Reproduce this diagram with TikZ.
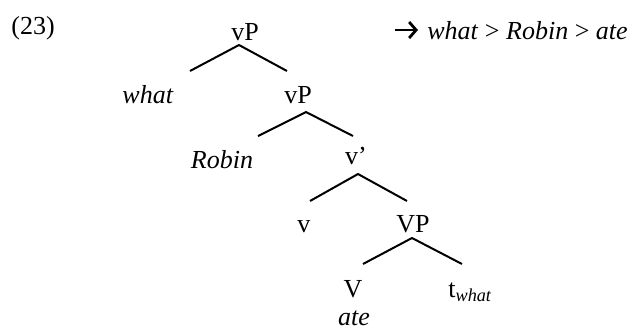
\documentclass[tikz,border=0pt]{standalone}
\usepackage{fontspec}
\setmainfont{Liberation Serif}
\usetikzlibrary{arrows.meta}
\begin{document}
\begin{tikzpicture}[x=0.5pt,y=-0.5pt,
  lab/.style={anchor=base,inner sep=0pt,font=\fontsize{13}{15}\selectfont},
  branch/.style={line width=1pt}]
\useasboundingbox (0,0) rectangle (634,329);
% labels
\node[lab,anchor=base west] (num) at (11,34) {(23)};
\node[lab] (vP1) at (245,40) {vP};
\node[lab] (what) at (148,103) {\textit{what}};
\node[lab] (vP2) at (298,103) {vP};
\node[lab] (robin) at (222,168) {\textit{Robin}};
\node[lab] (vbar) at (356,164) {v’};
\node[lab] (v) at (304,232) {v};
\node[lab] (VP) at (413,232) {VP};
\node[lab] (V) at (353,297) {V};
\node[lab,anchor=base west] (t) at (448,297) {t\textsubscript{\textit{what}}};
\node[lab] (ate) at (354,325) {\textit{ate}};
\node[lab,anchor=base west] (order) at (427,39) {\textit{what} > \textit{Robin} > \textit{ate}};
% arrow symbol
\coordinate (arrS) at (395,30); \coordinate (arrE) at (418,30);
\draw[line width=1.4pt,-{Straight Barb[length=3.5pt,width=8pt,line width=1.4pt]}] (arrS) -- (arrE);
% branch points
\coordinate (a1) at (239,45); \coordinate (l1) at (190,71); \coordinate (r1) at (287,71);
\coordinate (a2) at (306,112); \coordinate (l2) at (258,136); \coordinate (r2) at (353,136);
\coordinate (a3) at (358,174); \coordinate (l3) at (310,201); \coordinate (r3) at (407,201);
\coordinate (a4) at (412,238); \coordinate (l4) at (363,264); \coordinate (r4) at (462,264);
\draw[branch] (l1) -- (a1) -- (r1);
\draw[branch] (l2) -- (a2) -- (r2);
\draw[branch] (l3) -- (a3) -- (r3);
\draw[branch] (l4) -- (a4) -- (r4);
\end{tikzpicture}
\end{document}
